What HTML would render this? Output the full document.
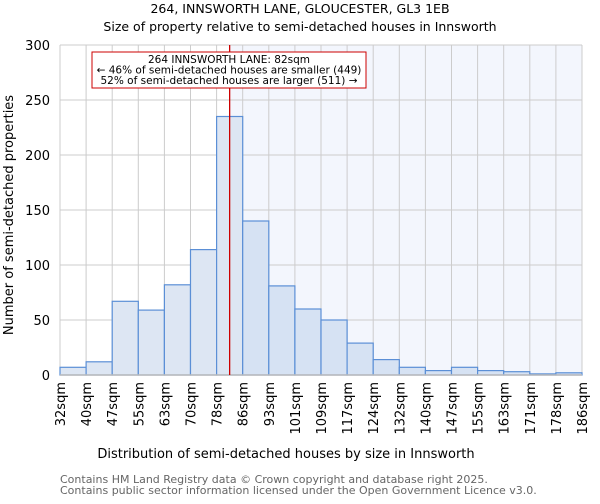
<!DOCTYPE html>
<html><head><meta charset="utf-8"><style>
body{margin:0;background:#fff;font-family:"DejaVu Sans","Liberation Sans",sans-serif;}
</style></head><body>
<svg width="600" height="500" xmlns="http://www.w3.org/2000/svg" font-family="DejaVu Sans, Liberation Sans, sans-serif">
<text x="300" y="13" text-anchor="middle" font-size="12.5">264, INNSWORTH LANE, GLOUCESTER, GL3 1EB</text>
<text x="300" y="31" text-anchor="middle" font-size="12.5">Size of property relative to semi-detached houses in Innsworth</text>
<g id="plot"></g>
<text x="286" y="458" text-anchor="middle" font-size="13">Distribution of semi-detached houses by size in Innsworth</text>
<text transform="translate(13,215) rotate(-90)" text-anchor="middle" font-size="13">Number of semi-detached properties</text>
<text x="60" y="483" font-size="11" fill="#666">Contains HM Land Registry data © Crown copyright and database right 2025.</text>
<text x="60" y="494" font-size="11" fill="#666">Contains public sector information licensed under the Open Government Licence v3.0.</text>
</svg>
<script>
const labels=["32sqm","40sqm","47sqm","55sqm","63sqm","70sqm","78sqm","86sqm","93sqm","101sqm","109sqm","117sqm","124sqm","132sqm","140sqm","147sqm","155sqm","163sqm","171sqm","178sqm","186sqm"];
const counts=[7,12,67,59,82,114,235,140,81,60,50,29,14,7,4,7,4,3,1,2];
const yTicks=[0,50,100,150,200,250,300];
const markerPos=6.5;
const NS="http://www.w3.org/2000/svg";
const g=document.getElementById('plot');
const x0=60,x1=582,y0=375,y1=45,ymax=300;
const bw=(x1-x0)/counts.length;
const X=i=>x0+i*bw;
const Y=v=>y0-(v/ymax)*(y0-y1);
function mk(t,a){const e=document.createElementNS(NS,t);for(const k in a)e.setAttribute(k,a[k]);g.appendChild(e);return e;}
const mx=X(markerPos);
let e=mk('rect',{x:mx,y:y1,width:x1-mx,height:y0-y1,fill:'#f3f6fd'});


for(let i=0;i<labels.length;i++){
 e=mk('line',{x1:X(i),x2:X(i),y1:y1,y2:y0,stroke:'#ccc','stroke-width':1});
 
 
 e=mk('text',{transform:`translate(${X(i)+5},${y0+7}) rotate(-90)`,'text-anchor':'end','font-size':13});
 e.textContent=labels[i];
 
 
}
yTicks.forEach(t=>{
 e=mk('line',{x1:x0,x2:x1,y1:Y(t),y2:Y(t),stroke:'#ccc','stroke-width':1});
 
 
 e=mk('text',{x:x0-10,y:Y(t)+5,'text-anchor':'end','font-size':13});
 e.textContent=t;
 
 
});
counts.forEach((c,i)=>{
 e=mk('rect',{x:X(i),y:Y(c),width:bw,height:y0-Y(c),fill:(i+0.5>markerPos?'#d6e2f3':'#dde6f3'),stroke:'#5b8fd6','stroke-width':1.2});
 
 
});
e=mk('line',{x1:x0,x2:x1,y1:y0,y2:y0,stroke:'#bbb','stroke-width':1.5});


e=mk('line',{x1:mx,x2:mx,y1:y1,y2:y0,stroke:'#c00','stroke-width':1.3});


e=mk('rect',{x:92,y:52,width:274,height:36,fill:'#fff',stroke:'#c00','stroke-width':1});


const ann=["264 INNSWORTH LANE: 82sqm","← 46% of semi-detached houses are smaller (449)","52% of semi-detached houses are larger (511) →"];
ann.forEach((s,k)=>{
 e=mk('text',{x:229,y:63+k*10.5,'text-anchor':'middle','font-size':10.5});
 e.textContent=s;
 
 
});
</script>
</body></html>
